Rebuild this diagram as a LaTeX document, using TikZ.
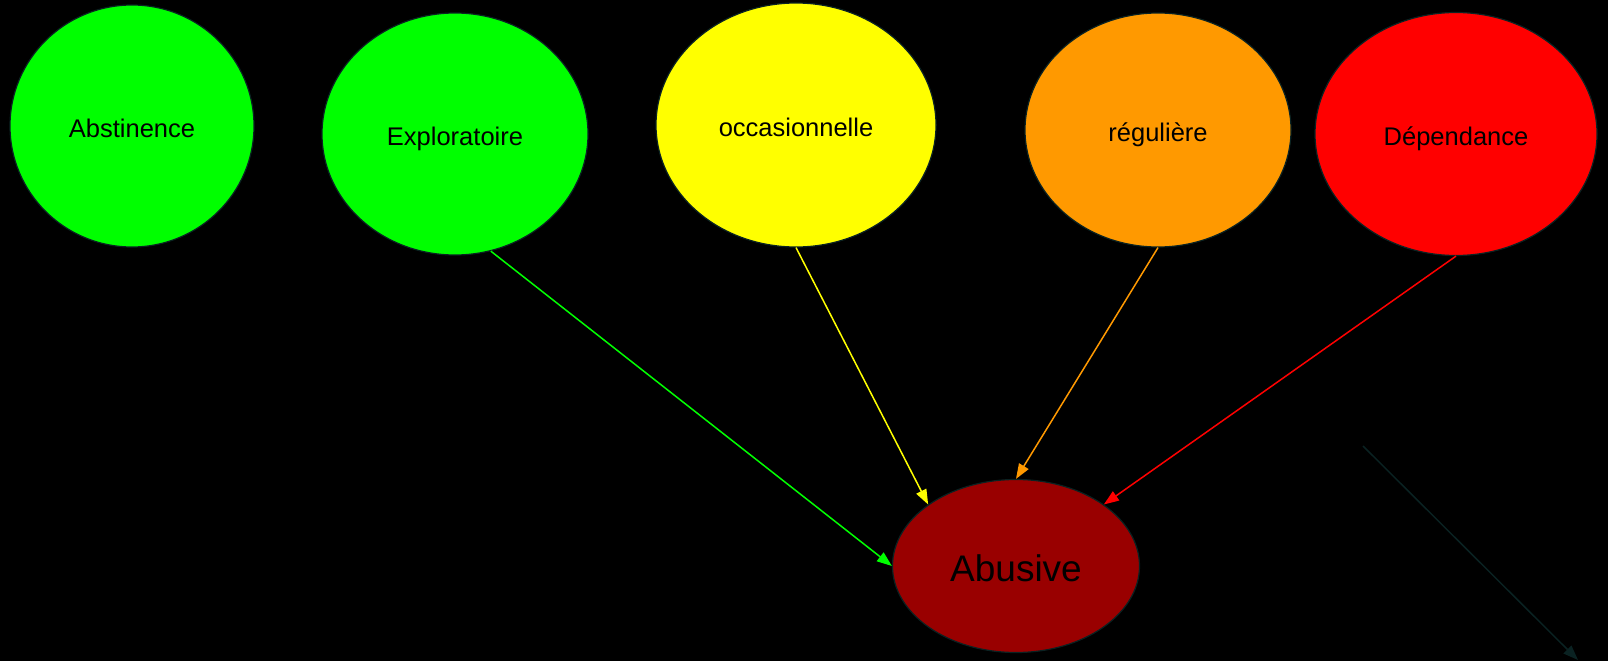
\documentclass[tikz,border=0pt]{standalone}
\usepackage{fontspec}
\setmainfont{Liberation Sans}
\usepackage{xcolor}
\usetikzlibrary{
  arrows.meta,
  shapes.geometric
}
\definecolor{outline}{HTML}{0A2222}
\definecolor{stagegreen}{HTML}{00FF00}
\definecolor{stageyellow}{HTML}{FFFF00}
\definecolor{stageorange}{HTML}{FF9900}
\definecolor{stagered}{HTML}{FF0000}
\definecolor{stagedark}{HTML}{990000}
\tikzset{
  line cap=round,
  line join=round,
  stage/.style={draw=outline, line width=1.2pt, ellipse, inner sep=0pt,
    text height=23pt, text depth=0pt,
    font=\fontsize{25.5}{30}\selectfont},
  arrow/.style={-{Triangle[length=15pt,width=11pt]}, line width=1.5pt}
}

\begin{document}
\begin{tikzpicture}[x=1pt,y=-1pt]
  \fill[black] (0,0) rectangle (1608,661);
  \useasboundingbox (0,0) rectangle (1608,661);

  \node[stage, fill=stagegreen, minimum width=244pt, minimum height=242pt] (abst) at (132,126) {Abstinence};
  \node[stage, fill=stagegreen, minimum width=266pt, minimum height=242pt] (explo) at (455,134) {Exploratoire};
  \node[stage, fill=stageyellow, minimum width=280pt, minimum height=244pt] (occas) at (796,125) {occasionnelle};
  \node[stage, fill=stageorange, minimum width=266pt, minimum height=234pt] (regul) at (1158,130) {régulière};
  \node[stage, fill=stagered, minimum width=282pt, minimum height=243pt] (depend) at (1456,134) {Dépendance};
  \node[stage, fill=stagedark, minimum width=247pt, minimum height=173pt,
    text height=30pt, font=\fontsize{37}{42}\selectfont] (abus) at (1016,566) {Abusive};

  \draw[arrow, stagegreen] (explo.-73) -- (abus.180);
  \draw[arrow, stageyellow] (occas.south) -- (abus.145);
  \draw[arrow, stageorange] (regul.south) -- (abus.north);
  \draw[arrow, stagered] (depend.south) -- (abus.35);

  \coordinate (tailstart) at (1363,446);
  \coordinate (tailend) at (1578,660);
  \draw[arrow, outline] (tailstart) -- (tailend);
\end{tikzpicture}
\end{document}
